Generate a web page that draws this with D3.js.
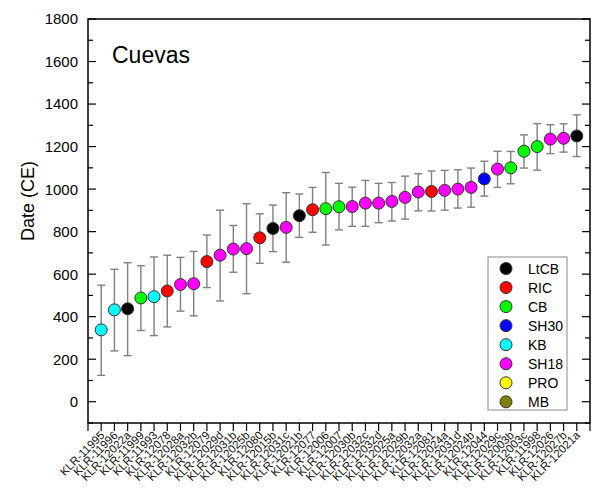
<!DOCTYPE html>
<html><head><meta charset="utf-8">
<script src="https://cdn.jsdelivr.net/npm/d3@7"></script>
<style>body{margin:0;background:#fff}svg{display:block}text{font-family:"Liberation Sans",Arial,sans-serif}</style>
</head><body><svg id="c" width="592" height="490"></svg>
<script>
const samples = ["KLR-11995","KLR-11996","KLR-12022a","KLR-11999","KLR-11993","KLR-12078","KLR-12028a","KLR-12032b","KLR-12079","KLR-12029d","KLR-12031b","KLR-12025b","KLR-12080","KLR-12015b","KLR-12031c","KLR-12021b","KLR-12077","KLR-12006","KLR-12007","KLR-12030b","KLR-12032c","KLR-12032d","KLR-12025a","KLR-12029b","KLR-12032a","KLR-12081","KLR-12024a","KLR-12031d","KLR-12024b","KLR-12044","KLR-12029c","KLR-12003b","KLR-12003c","KLR-11998","KLR-12026","KLR-12027b","KLR-12021a"];
const groups = ["KB","KB","LtCB","CB","KB","RIC","SH18","SH18","RIC","SH18","SH18","SH18","RIC","LtCB","SH18","LtCB","RIC","CB","CB","SH18","SH18","SH18","SH18","SH18","SH18","RIC","SH18","SH18","SH18","SH30","SH18","CB","CB","CB","SH18","SH18","LtCB"];
const dates = [338,432,437,488,494,521,551,555,659,689,718,720,771,815,820,875,903,908,917,918,934,934,942,961,986,989,994,1000,1008,1048,1094,1100,1178,1200,1235,1239,1250];
const upper = [548,623,654,640,681,689,679,707,784,901,829,931,884,925,983,977,1008,1078,1027,1009,1041,1027,1031,1061,1072,1085,1088,1091,1099,1131,1178,1177,1255,1308,1303,1307,1349];
const lower = [124,239,217,335,311,352,426,404,537,474,609,508,651,706,656,773,797,737,808,825,825,842,850,859,898,897,901,911,915,967,1008,1025,1099,1089,1167,1174,1153];
const legendNames = ["LtCB","RIC","CB","SH30","KB","SH18","PRO","MB"];
const legendColors = ["#000000","#ff0000","#00ff00","#0000ff","#00ffff","#ff00ff","#ffff00","#808000"];
const yTicks = [0,200,400,600,800,1000,1200,1400,1600,1800];

const svg = d3.select("#c");
const L = 88, R = 590, T = 19, B = 423;
const x = d3.scaleLinear().domain([0, samples.length + 1]).range([L, R]);
const y = d3.scaleLinear().domain([-100, 1800]).range([B, T]);
const color = d3.scaleOrdinal().domain(legendNames).range(legendColors);

// frame
svg.append("rect").attr("x", L).attr("y", T).attr("width", R - L).attr("height", B - T)
  .attr("fill", "none").attr("stroke", "#000").attr("stroke-width", 1.5);

// left axis
const minor = d3.range(-100, 1801, 100);
const gL = svg.append("g").attr("transform", `translate(${L},0)`);
gL.call(d3.axisRight(y).tickValues(minor).tickSize(0).tickFormat(""));
gL.select(".domain").remove();
gL.selectAll(".mt").data(minor).join("line").attr("class","mt")
  .attr("x1", 0).attr("x2", d => d % 200 === 0 ? 8 : 5)
  .attr("y1", d => y(d)).attr("y2", d => y(d)).attr("stroke", "#000").attr("stroke-width", 1.2);
svg.append("g").selectAll("text").data(yTicks).join("text")
  .attr("x", 78).attr("y", d => y(d)).attr("dy", "0.36em").attr("text-anchor", "end")
  .attr("font-size", 15).text(d => d);

// right axis ticks
svg.append("g").selectAll("line").data(minor).join("line")
  .attr("x1", R).attr("x2", d => d % 200 === 0 ? R - 8 : R - 5)
  .attr("y1", d => y(d)).attr("y2", d => y(d)).attr("stroke", "#000").attr("stroke-width", 1.2);

// bottom ticks
const xt = d3.range(0, samples.length + 2);
svg.append("g").selectAll("line").data(xt).join("line")
  .attr("x1", d => x(d)).attr("x2", d => x(d)).attr("y1", B).attr("y2", B + 8)
  .attr("stroke", "#000").attr("stroke-width", 1.2);
svg.append("g").selectAll("text").data(samples).join("text")
  .attr("transform", (d, i) => `translate(${x(i + 1) + 4},${B + 13}) rotate(-45)`)
  .attr("text-anchor", "end").attr("font-size", 11.5).attr("fill", "#111").text(d => d);

// y label
svg.append("text").attr("transform", `translate(34,201) rotate(-90)`)
  .attr("text-anchor", "middle").attr("font-size", 18).text("Date (CE)");

// title
svg.append("text").attr("x", 112).attr("y", 63).attr("font-size", 23).text("Cuevas");

// error bars
const eb = svg.append("g").attr("stroke", "#808080").attr("stroke-width", 1.4);
samples.forEach((s, i) => {
  const cx = x(i + 1);
  eb.append("line").attr("x1", cx).attr("x2", cx).attr("y1", y(upper[i])).attr("y2", y(lower[i]));
  eb.append("line").attr("x1", cx - 4).attr("x2", cx + 4).attr("y1", y(upper[i])).attr("y2", y(upper[i]));
  eb.append("line").attr("x1", cx - 4).attr("x2", cx + 4).attr("y1", y(lower[i])).attr("y2", y(lower[i]));
});

// points
svg.append("g").selectAll("circle").data(dates).join("circle")
  .attr("cx", (d, i) => x(i + 1)).attr("cy", d => y(d)).attr("r", 6)
  .attr("fill", (d, i) => color(groups[i])).attr("stroke", "#333").attr("stroke-width", 1);

// legend
const lg = svg.append("g");
lg.append("rect").attr("x", 488).attr("y", 257).attr("width", 79).attr("height", 153)
  .attr("fill", "#fff").attr("stroke", "#888").attr("stroke-width", 1);
legendNames.forEach((n, i) => {
  const yy = 268.5 + i * 19.05;
  lg.append("circle").attr("cx", 506).attr("cy", yy).attr("r", 6)
    .attr("fill", color(n)).attr("stroke", "#333").attr("stroke-width", 1);
  lg.append("text").attr("x", 528).attr("y", yy).attr("dy", "0.36em").attr("font-size", 14).text(n);
});
</script></body></html>
